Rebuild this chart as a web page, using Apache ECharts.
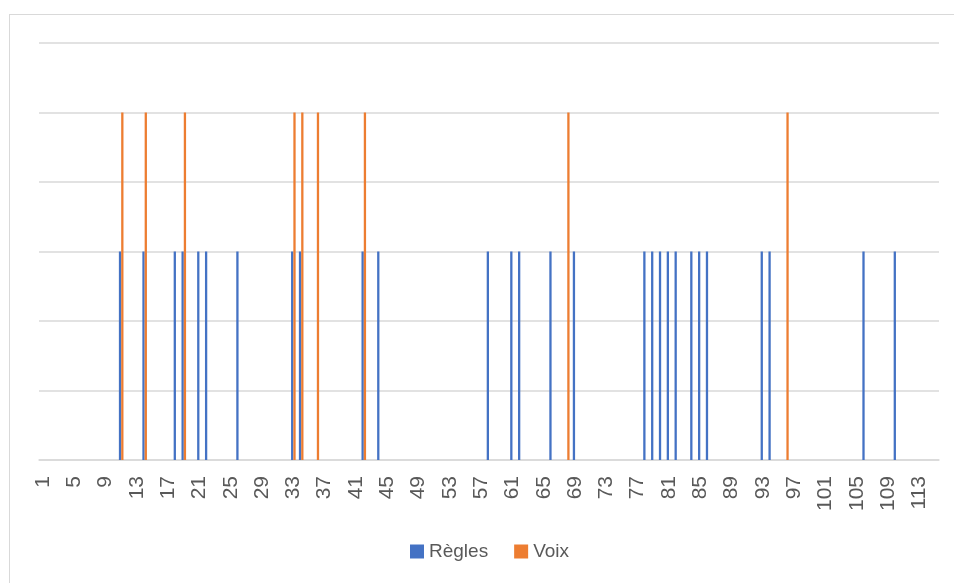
<!DOCTYPE html>
<html>
<head>
<meta charset="UTF-8">
<style>
body { margin: 0; background: #fff; }
#frame { position: absolute; left: 9px; top: 14px; width: 960px; height: 600px; border-left: 1px solid #d9d9d9; border-top: 1px solid #d9d9d9; }
#report_div { position: absolute; left: 0; top: 0; width: 954px; height: 583px; }
</style>
</head>
<body>
<div id="frame"></div>
<div id="report_div"></div>
<script type="text/javascript" src="https://cdn.jsdelivr.net/npm/echarts@6/dist/echarts.min.js"></script>
<script type="text/javascript">
// categories 1..115
var nbCat = 115;
var categories = [];
for (var i = 1; i <= nbCat; i++) categories.push(String(i));

// positions (numéro de catégorie) où chaque série a une barre
var reglesCats = [11, 14, 18, 19, 21, 22, 26, 33, 34, 42, 44, 58, 61, 62, 66, 69,
	78, 79, 80, 81, 82, 84, 85, 86, 93, 94, 106, 110];
var voixCats = [11, 14, 19, 33, 34, 36, 42, 68, 96];
var reglesValue = 3;
var voixValue = 5;

function fill(cats, v) {
	var arr = [];
	for (var i = 0; i < nbCat; i++) arr.push(null);
	cats.forEach(function (c) { arr[c - 1] = v; });
	return arr;
}
var regles = fill(reglesCats, reglesValue);
var voix = fill(voixCats, voixValue);

var myChart = echarts.init(document.getElementById('report_div'));
var option = {
	animation: false,
	textStyle: { fontFamily: 'Liberation Sans' },
	grid: { left: 39, right: 15, top: 43, bottom: 123, containLabel: false },
	legend: {
		left: 410,
		top: 542,
		padding: 0,
		itemWidth: 14,
		itemHeight: 14,
		itemGap: 26,
		icon: 'rect',
		textStyle: { fontSize: 19, color: '#595959' },
		data: ['Règles', 'Voix']
	},
	xAxis: {
		type: 'category',
		data: categories,
		axisLine: { lineStyle: { color: '#d9d9d9', width: 1.5 } },
		axisTick: { show: false },
		axisLabel: { interval: 3, rotate: 90, fontSize: 21, color: '#595959', margin: 16 }
	},
	yAxis: {
		type: 'value',
		min: 0,
		max: 6,
		interval: 1,
		axisLabel: { show: false },
		axisLine: { show: false },
		axisTick: { show: false },
		splitLine: { lineStyle: { color: '#d9d9d9', width: 1.5 } }
	},
	series: [
		{ name: 'Règles', type: 'bar', data: regles, barWidth: 2.3, barGap: '0%', itemStyle: { color: '#4472C4' } },
		{ name: 'Voix', type: 'bar', data: voix, barWidth: 2.3, barGap: '0%', itemStyle: { color: '#ED7D31' } }
	]
};
myChart.setOption(option);
</script>
</body>
</html>
